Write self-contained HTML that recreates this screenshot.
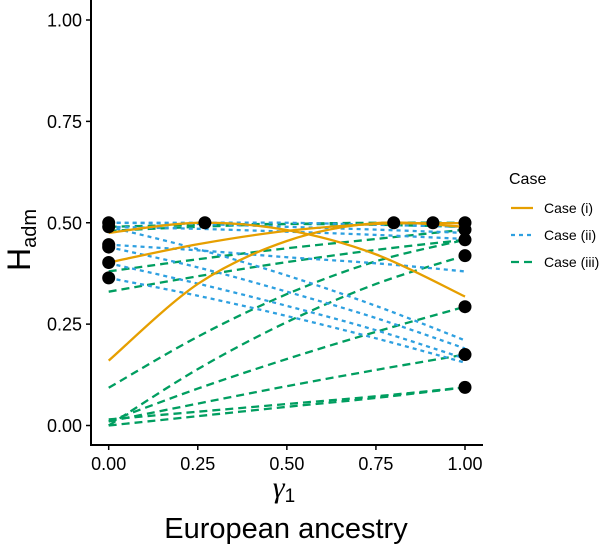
<!DOCTYPE html>
<html><head><meta charset="utf-8"><style>
html,body{margin:0;padding:0;background:#fff;}
svg{display:block;font-family:"Liberation Sans",sans-serif;}
</style></head><body>
<svg id="chart" width="600" height="545" viewBox="0 0 600 545" xmlns="http://www.w3.org/2000/svg">
<g id="lines"></g>
<g id="dots"></g>
<g id="axes"></g>
<text x="284" y="497" font-size="30" text-anchor="middle" font-family="Liberation Serif,serif" font-style="italic">γ<tspan font-size="19" font-style="normal" font-family="Liberation Sans,sans-serif" dy="5">1</tspan></text>
<text x="286" y="538" font-size="29" text-anchor="middle">European ancestry</text>
<text transform="translate(30,240) rotate(-90)" font-size="32" text-anchor="middle">H<tspan font-size="20" dy="6">adm</tspan></text>
<g>
<text x="509" y="184" font-size="16">Case</text>
<g><line x1="511" y1="208" x2="533" y2="208" stroke="#E69F00" stroke-width="2.3"/><text x="544" y="213" font-size="14">Case (i)</text></g>
<g><line x1="511" y1="235" x2="533" y2="235" stroke="#2EA0E0" stroke-width="2.3" stroke-dasharray="4,4"/><text x="544" y="240" font-size="14">Case (ii)</text></g>
<g><line x1="511" y1="262" x2="533" y2="262" stroke="#009E60" stroke-width="2.3" stroke-dasharray="8,5"/><text x="544" y="267" font-size="14">Case (iii)</text></g>
</g>
</svg>
<script>
const gammaGrid = [0, 0.25, 0.5, 0.75, 1];
const caseI = [
  [0.16, 0.349, 0.455, 0.499, 0.49],
  [0.402, 0.447, 0.48, 0.497, 0.499],
  [0.475, 0.4999, 0.482, 0.422, 0.318]
];
const caseII = [
  [0.50, 0.50, 0.50, 0.495, 0.49],
  [0.50, 0.497, 0.49, 0.483, 0.475],
  [0.49, 0.485, 0.478, 0.47, 0.46],
  [0.446, 0.432, 0.415, 0.40, 0.38],
  [0.49, 0.435, 0.37, 0.295, 0.21],
  [0.44, 0.39, 0.33, 0.265, 0.19],
  [0.40, 0.35, 0.295, 0.235, 0.165],
  [0.364, 0.32, 0.27, 0.215, 0.155]
];
const caseIII = [
  [0.48, 0.49, 0.497, 0.50, 0.50],
  [0.49, 0.495, 0.497, 0.495, 0.49],
  [0.38, 0.41, 0.437, 0.46, 0.483],
  [0.33, 0.368, 0.403, 0.433, 0.458],
  [0.093, 0.219, 0.324, 0.405, 0.458],
  [0.0, 0.139, 0.255, 0.349, 0.419],
  [0.01, 0.091, 0.164, 0.231, 0.293],
  [0.01, 0.054, 0.097, 0.137, 0.175],
  [0.0, 0.023, 0.046, 0.068, 0.094],
  [0.015, 0.034, 0.053, 0.072, 0.094]
];
const pointGamma = [0,0,0,0,0,0, 1,1,1,1,1,1,1, 0.27,0.8,0.91];
const pointH = [0.50,0.49,0.446,0.44,0.402,0.364, 0.50,0.483,0.458,0.419,0.293,0.175,0.094, 0.50,0.50,0.50];
const xTicks = [0, 0.25, 0.5, 0.75, 1];
const xTickLabels = ["0.00","0.25","0.50","0.75","1.00"];
const yTicks = [0, 0.25, 0.5, 0.75, 1];
const yTickLabels = ["0.00","0.25","0.50","0.75","1.00"];

const NS = "http://www.w3.org/2000/svg";
const X = v => 108.7 + v * 356.3;
const Y = v => 425.5 - v * 405.5;
function mk(tag, attrs, parent){const e=document.createElementNS(NS,tag);for(const k in attrs)e.setAttribute(k,attrs[k]);parent.appendChild(e);return e;}
function smoothPath(xs, ys){
  const P = xs.map((x,i)=>[X(x),Y(ys[i])]);
  let d = "M"+P[0][0]+","+P[0][1];
  for(let i=0;i<P.length-1;i++){
    const p0=P[Math.max(i-1,0)],p1=P[i],p2=P[i+1],p3=P[Math.min(i+2,P.length-1)];
    const c1=[p1[0]+(p2[0]-p0[0])/6,p1[1]+(p2[1]-p0[1])/6];
    const c2=[p2[0]-(p3[0]-p1[0])/6,p2[1]-(p3[1]-p1[1])/6];
    d+=" C"+c1[0]+","+c1[1]+" "+c2[0]+","+c2[1]+" "+p2[0]+","+p2[1];
  }
  return d;
}
const lines = document.getElementById("lines");
function drawSeries(arr, color, dash, name){
  arr.forEach((vals,i)=>{
    const p = mk("path",{d:smoothPath(gammaGrid, vals),fill:"none",stroke:color,"stroke-width":2.3,"stroke-dasharray":dash},lines);
    
    
  });
}
drawSeries(caseIII, "#009E60", "8,5", "case-iii");
drawSeries(caseII, "#2EA0E0", "4,4", "case-ii");
drawSeries(caseI, "#E69F00", "none", "case-i");
const dots = document.getElementById("dots");
pointH.forEach((h,i)=>{
  const c = mk("circle",{cx:X(pointGamma[i]),cy:Y(h),r:6.5,fill:"#000"},dots);
  
  
});
const axes = document.getElementById("axes");
const ya = mk("line",{x1:91,y1:0,x2:91,y2:446,stroke:"#000","stroke-width":2},axes);


const xa = mk("line",{x1:90,y1:445,x2:483,y2:445,stroke:"#000","stroke-width":2},axes);


yTicks.forEach((v,i)=>{
  mk("line",{x1:86,y1:Y(v),x2:91,y2:Y(v),stroke:"#000","stroke-width":1.5},axes);
  const t = mk("text",{x:82,y:Y(v)+6.5,"font-size":18,"text-anchor":"end"},axes);
  t.textContent = yTickLabels[i];
  
  
});
xTicks.forEach((v,i)=>{
  mk("line",{x1:X(v),y1:445,x2:X(v),y2:450,stroke:"#000","stroke-width":1.5},axes);
  const t = mk("text",{x:X(v),y:470,"font-size":18,"text-anchor":"middle"},axes);
  t.textContent = xTickLabels[i];
  
  
});
</script>
</body></html>
